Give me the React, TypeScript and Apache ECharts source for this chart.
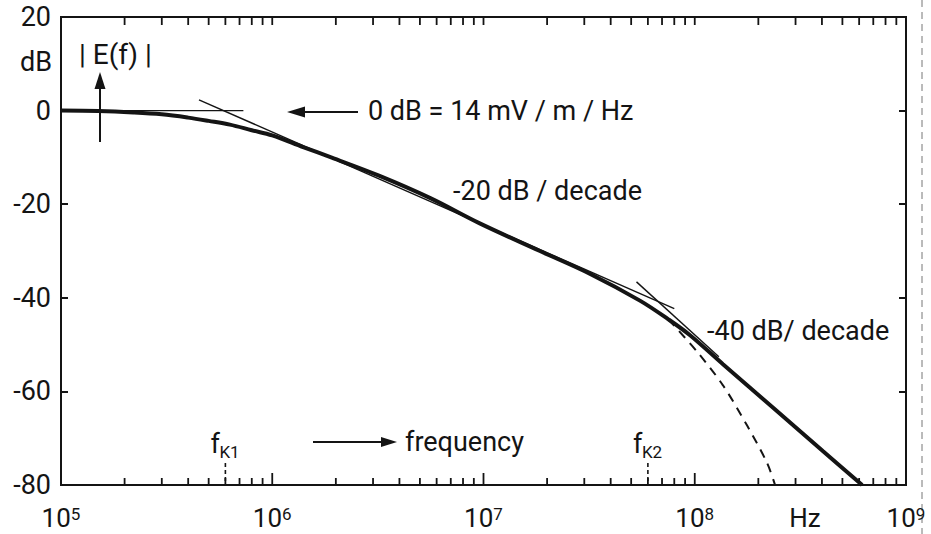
import React, { useEffect, useRef } from "react";
import * as echarts from "echarts";

const FONT = "Roboto, 'DejaVu Sans', sans-serif";
const INK = "#141414";

const xMin = 1e5;
const xMax = 1e9;
const yMin = -80;
const yMax = 20;
const yStep = 20;

const decadeTicks = [1e5, 1e6, 1e7, 1e8, 1e9];
const minorMultipliers = [2, 3, 4, 5, 6, 7, 8, 9];

// |E(f)| response (thick curve)
const responseCurve: [number, number][] = [
  [1e5, 0], [1.5e5, -0.1], [2.2e5, -0.4], [3e5, -0.8], [4e5, -1.5], [5e5, -2.2],
  [6.3e5, -3.0], [8e5, -4.2], [1e6, -5.3], [1.4e6, -7.8], [1.9e6, -10.0], [3.2e6, -13.9],
  [5.6e6, -18.7], [9.6e6, -24.1], [1.85e7, -30.0], [3.2e7, -34.9], [5.5e7, -40.6],
  [7.5e7, -44.6], [9.5e7, -48.0], [1.36e8, -54.2], [2.35e8, -63.5], [4.05e8, -72.8], [6.2e8, -80],
];

// dashed fall-off curve
const dashedCurve: [number, number][] = [
  [7.5e7, -44.6], [1.03e8, -51.6], [1.36e8, -58.7], [1.77e8, -67.3], [2.2e8, -75.3], [2.4e8, -80],
];

// thin asymptotes
const asymptoteFlat: [number, number][] = [[1e5, 0], [7.3e5, 0]];
const asymptote20: [number, number][] = [[4.5e5, 2.3], [8e7, -42.3]];
const asymptote40: [number, number][] = [[5.3e7, -36.6], [1.3e8, -52.6]];

// corner frequencies
const cornerFrequencies = [6e5, 6e7];
const cornerLabels = ["K1", "K2"];

export default function App() {
  const ref = useRef<HTMLDivElement>(null);

  useEffect(() => {
    if (!ref.current) return;
    const chart = echarts.init(ref.current, undefined, { renderer: "svg" });

    const tickData: number[][] = [];
    decadeTicks.slice(1, -1).forEach((d) => tickData.push([d, 12]));
    decadeTicks.slice(0, -1).forEach((d) =>
      minorMultipliers.forEach((m) => tickData.push([d * m, 7]))
    );

    const thin = { color: INK, width: 1.4 };

    const option: any = {
      animation: false,
      backgroundColor: "#ffffff",
      textStyle: { fontFamily: FONT },
      grid: {
        left: 61,
        top: 17,
        width: 845,
        height: 468,
        show: true,
        borderColor: INK,
        borderWidth: 2,
        backgroundColor: "transparent",
        containLabel: false,
        outerBoundsMode: "none",
      },
      xAxis: {
        type: "log",
        logBase: 10,
        min: xMin,
        max: xMax,
        axisLine: { show: false },
        axisTick: { show: false },
        splitLine: { show: false },
        axisLabel: {
          margin: 20,
          showMinLabel: true,
          showMaxLabel: true,
          formatter: (v: number) => `{b|10}{s|${Math.round(Math.log10(v))}}`,
          rich: {
            b: { fontSize: 26, lineHeight: 26, fontFamily: FONT, color: INK },
            s: { fontSize: 17, lineHeight: 17, fontFamily: FONT, color: INK, verticalAlign: "top" },
          },
        },
      },
      yAxis: [
        {
          type: "value",
          min: yMin,
          max: yMax,
          interval: yStep,
          position: "left",
          axisLine: { show: false },
          axisTick: { show: true, inside: true, length: 7, lineStyle: { color: INK, width: 2 } },
          splitLine: { show: false },
          axisLabel: { color: INK, fontSize: 27, fontFamily: FONT, margin: 10 },
        },
        {
          type: "value",
          min: yMin,
          max: yMax,
          interval: yStep,
          position: "right",
          axisLine: { show: false },
          axisTick: { show: true, inside: true, length: 7, lineStyle: { color: INK, width: 2 } },
          splitLine: { show: false },
          axisLabel: { show: false },
        },
      ],
      series: [
        {
          type: "custom",
          silent: true,
          data: tickData,
          renderItem: (params: any, api: any) => {
            const f = api.value(0);
            const len = api.value(1);
            const p = api.coord([f, yMin]);
            const cs = params.coordSys;
            const top = cs.y;
            const bottom = cs.y + cs.height;
            const st = { stroke: INK, lineWidth: 1.8 };
            return {
              type: "group",
              children: [
                { type: "line", shape: { x1: p[0], y1: bottom, x2: p[0], y2: bottom - len }, style: st },
                { type: "line", shape: { x1: p[0], y1: top, x2: p[0], y2: top + 8 }, style: st },
              ],
            };
          },
        },
        {
          type: "custom",
          silent: true,
          data: cornerFrequencies.map((f) => [f, yMin]),
          renderItem: (params: any, api: any) => {
            const p = api.coord([api.value(0), yMin]);
            const cs = params.coordSys;
            const bottom = cs.y + cs.height;
            const label = cornerLabels[params.dataIndex];
            return {
              type: "group",
              children: [
                {
                  type: "line",
                  shape: { x1: p[0], y1: bottom - 22, x2: p[0], y2: bottom - 3 },
                  style: { stroke: INK, lineWidth: 1.6, lineDash: [4, 3] },
                },
                {
                  type: "text",
                  style: {
                    text: "f",
                    x: p[0] - 15,
                    y: bottom - 41,
                    fontSize: 27,
                    fontFamily: FONT,
                    fill: INK,
                    align: "left",
                    verticalAlign: "middle",
                  },
                },
                {
                  type: "text",
                  style: {
                    text: label,
                    x: p[0] - 6,
                    y: bottom - 33,
                    fontSize: 17,
                    fontFamily: FONT,
                    fill: INK,
                    align: "left",
                    verticalAlign: "middle",
                  },
                },
              ],
            };
          },
        },
        { type: "line", data: asymptoteFlat, symbol: "none", silent: true, lineStyle: thin },
        { type: "line", data: asymptote20, symbol: "none", silent: true, lineStyle: thin },
        { type: "line", data: asymptote40, symbol: "none", silent: true, lineStyle: thin },
        {
          type: "line",
          data: dashedCurve,
          symbol: "none",
          silent: true,
          smooth: 0.3,
          lineStyle: { color: INK, width: 2, type: [9, 7] },
        },
        {
          type: "line",
          data: responseCurve,
          symbol: "none",
          silent: true,
          smooth: 0.35,
          lineStyle: { color: INK, width: 4 },
          z: 5,
        },
      ],
      graphic: [
        {
          type: "text",
          style: { text: "dB", x: 52, y: 62, fontSize: 27, fontFamily: FONT, fill: INK, align: "right", verticalAlign: "middle" },
        },
        {
          type: "text",
          style: { text: "| E(f) |", x: 79, y: 54, fontSize: 28, fontFamily: FONT, fill: INK, align: "left", verticalAlign: "middle" },
        },
        { type: "line", shape: { x1: 100, y1: 142, x2: 100, y2: 86 }, style: { stroke: INK, lineWidth: 2 } },
        { type: "polygon", shape: { points: [[100, 72], [94.5, 89], [105.5, 89]] }, style: { fill: INK } },
        { type: "line", shape: { x1: 358, y1: 112, x2: 302, y2: 112 }, style: { stroke: INK, lineWidth: 2 } },
        { type: "polygon", shape: { points: [[287, 112], [305, 106.5], [305, 117.5]] }, style: { fill: INK } },
        {
          type: "text",
          style: { text: "0 dB = 14 mV / m / Hz", x: 368, y: 111, fontSize: 27, fontFamily: FONT, fill: INK, align: "left", verticalAlign: "middle" },
        },
        {
          type: "text",
          style: { text: "-20 dB / decade", x: 453, y: 191, fontSize: 27, fontFamily: FONT, fill: INK, align: "left", verticalAlign: "middle" },
        },
        {
          type: "text",
          style: { text: "-40 dB/ decade", x: 707, y: 331, fontSize: 27, fontFamily: FONT, fill: INK, align: "left", verticalAlign: "middle" },
        },
        { type: "line", shape: { x1: 313, y1: 442, x2: 384, y2: 442 }, style: { stroke: INK, lineWidth: 2 } },
        { type: "polygon", shape: { points: [[397, 442], [381, 437], [381, 447]] }, style: { fill: INK } },
        {
          type: "text",
          style: { text: "frequency", x: 405, y: 442, fontSize: 27, fontFamily: FONT, fill: INK, align: "left", verticalAlign: "middle" },
        },
        {
          type: "text",
          style: { text: "Hz", x: 805, y: 518, fontSize: 26, fontFamily: FONT, fill: INK, align: "center", verticalAlign: "middle" },
        },
        {
          type: "line",
          shape: { x1: 922, y1: 0, x2: 922, y2: 534 },
          style: { stroke: "#777", lineWidth: 1, lineDash: [7, 5] },
        },
      ],
    };

    chart.setOption(option);
    return () => chart.dispose();
  }, []);

  return (
    <div
      ref={ref}
      style={{ position: "fixed", left: 0, top: 0, width: 931, height: 534, background: "#fff" }}
    />
  );
}
